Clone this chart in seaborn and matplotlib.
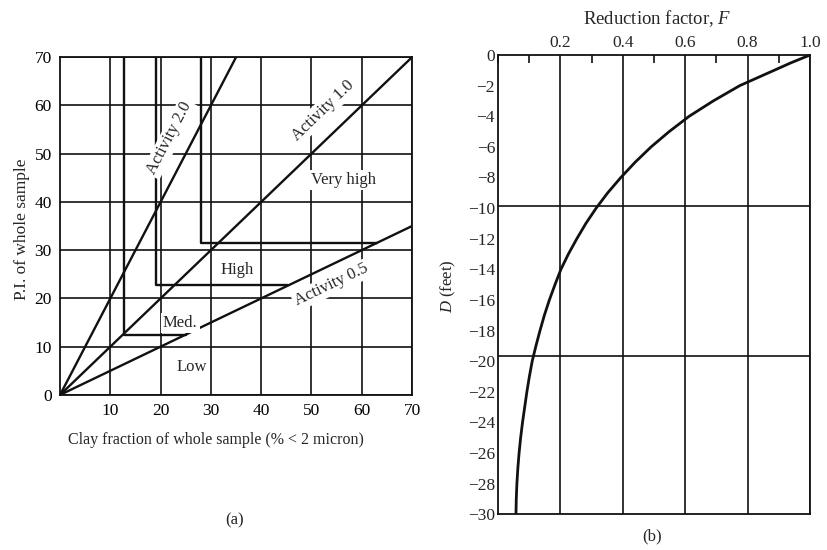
import numpy as np
import pandas as pd
import matplotlib
matplotlib.use("Agg")
import matplotlib.pyplot as plt
import seaborn as sns
from matplotlib.ticker import MultipleLocator

# (a) activity chart
activity = [2.0, 1.0, 0.5]
activity_labels = ["Activity 2.0", "Activity 1.0", "Activity 0.5"]
# corner of each class boundary (clay fraction, P.I.)
boundary_clay = [12.7, 19.0, 28.0]
boundary_pi = [12.5, 22.7, 31.5]
clay_ticks = [10, 20, 30, 40, 50, 60, 70]
pi_ticks = [0, 10, 20, 30, 40, 50, 60, 70]

# (b) reduction factor curve
depth_D = [0, -0.5, -1, -1.5, -2, -3, -4, -5, -6, -7, -8, -9, -10, -11, -12, -13, -14, -15,
           -16, -17, -18, -19, -20, -21, -22, -23, -24, -25, -26, -27, -28, -29, -30]
red_F = [1.0, 0.94, 0.885, 0.83, 0.775, 0.69, 0.613, 0.549, 0.491, 0.44, 0.394, 0.352, 0.315,
         0.282, 0.253, 0.226, 0.202, 0.183, 0.165, 0.149, 0.135, 0.122, 0.11, 0.101, 0.093,
         0.086, 0.079, 0.073, 0.068, 0.064, 0.061, 0.059, 0.058]
depth_lines = [-9.84, -19.69]
F_ticks = [0.2, 0.4, 0.6, 0.8, 1.0]

sns.set_theme(style="white")
plt.rcParams['font.family'] = ['Liberation Serif', 'DejaVu Serif']
plt.rcParams['mathtext.fontset'] = 'custom'
plt.rcParams['mathtext.it'] = 'Liberation Serif:italic'
plt.rcParams['mathtext.rm'] = 'Liberation Serif'

ink = '#111111'
fs = 12

fig = plt.figure(figsize=(8.27, 5.5), dpi=100)
ax1 = fig.add_axes([0.0726, 0.282, 0.4256, 0.614])
ax2 = fig.add_axes([0.602, 0.065, 0.3775, 0.835])

# ---- panel (a) ----
act_df = pd.DataFrame({
    'clay': [0, 70] * len(activity),
    'pi': [v for a in activity for v in (0, 70 * a)],
    'A': [a for a in activity for _ in range(2)],
})
sns.lineplot(data=act_df, x='clay', y='pi', units='A', estimator=None,
             color=ink, lw=1.7, ax=ax1, zorder=3)

# class boundaries: vertical up to top, horizontal across to the 0.5 line
for cx, py in zip(boundary_clay, boundary_pi):
    ax1.plot([cx, cx, py / 0.5], [70, py, py], color=ink, lw=1.7, zorder=3)

ax1.set_xlim(0, 70)
ax1.set_ylim(0, 70)
ax1.set_xticks(clay_ticks)
ax1.set_yticks(pi_ticks)
ax1.grid(True, color=ink, lw=1.2)
ax1.tick_params(length=0, labelsize=fs + 0.5, pad=6, colors='black')
for s in ax1.spines.values():
    s.set_color(ink)
    s.set_linewidth(1.3)
ax1.set_xlabel("Clay fraction of whole sample (% < 2 micron)", fontsize=fs - 0.5)
ax1.xaxis.set_label_coords(0.443, -0.11)
ax1.set_ylabel("P.I. of whole sample", fontsize=fs + 0.5)
ax1.yaxis.set_label_coords(-0.085, 0.49)

box = dict(facecolor='white', edgecolor='none', pad=1.5)
ax1.text(21.8, 53.2, activity_labels[0], rotation=62.5, ha='center', va='center',
         fontsize=fs, bbox=box, zorder=4)
ax1.text(52.3, 59.0, activity_labels[1], rotation=44, ha='center', va='center',
         fontsize=fs, bbox=box, zorder=4)
ax1.text(54.0, 22.8, activity_labels[2], rotation=25.6, ha='center', va='center',
         fontsize=fs, bbox=box, zorder=4)
ax1.text(56.3, 44.5, "Very high", ha='center', va='center', fontsize=fs, bbox=box, zorder=4)
ax1.text(35.2, 25.9, "High", ha='center', va='center', fontsize=fs, bbox=box, zorder=4)
ax1.text(23.9, 14.9, "Med.", ha='center', va='center', fontsize=fs, bbox=box, zorder=4)
ax1.text(26.2, 5.8, "Low", ha='center', va='center', fontsize=fs, bbox=box, zorder=4)

# ---- panel (b) ----
curve = pd.DataFrame({'F': red_F, 'D': depth_D})
sns.lineplot(data=curve, x='F', y='D', sort=False, estimator=None,
             color=ink, lw=2.0, ax=ax2, zorder=3)
for d in depth_lines:
    ax2.axhline(d, color=ink, lw=1.2)
ax2.set_xlim(0, 1.0)
ax2.set_ylim(-30, 0)
ax2.xaxis.tick_top()
ax2.set_xticks(F_ticks)
ax2.set_xticklabels([f"{v:.1f}" for v in F_ticks])
ax2.xaxis.set_minor_locator(MultipleLocator(0.1))
ax2.yaxis.set_major_locator(MultipleLocator(2))
ax2.grid(True, axis='x', which='major', color=ink, lw=1.2)
ax2.tick_params(axis='x', which='major', length=0, labelsize=fs + 0.5, pad=3)
ax2.tick_params(axis='x', which='minor', direction='in', length=6, width=1.2,
                color=ink, top=True, bottom=False)
ax2.tick_params(axis='y', which='major', direction='in', length=6, width=1.2,
                color=ink, labelsize=fs + 0.5, pad=2)
for s in ax2.spines.values():
    s.set_color(ink)
    s.set_linewidth(1.3)
ax2.set_xlabel("Reduction factor, $F$", fontsize=fs + 1.5)
ax2.xaxis.set_label_position('top')
ax2.xaxis.set_label_coords(0.51, 1.068)
ax2.set_ylabel("$D$ (feet)", fontsize=fs)
ax2.yaxis.set_label_coords(-0.127, 0.497)

fig.text(235 / 827, 1 - 520 / 550, "(a)", ha='center', va='center', fontsize=fs)
fig.text(652 / 827, 1 - 536 / 550, "(b)", ha='center', va='center', fontsize=fs)

fig.savefig("out.png", dpi=100)
